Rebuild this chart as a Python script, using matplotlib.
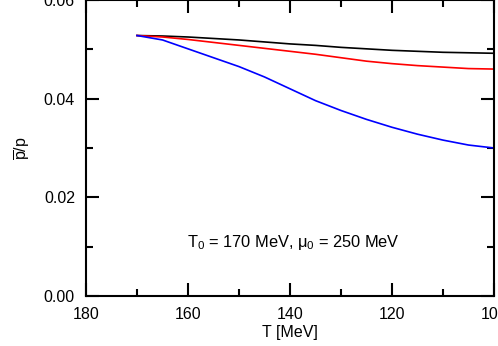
import matplotlib
matplotlib.use("Agg")
import matplotlib.pyplot as plt
from matplotlib.ticker import MultipleLocator, FormatStrFormatter

plt.rcParams['font.family'] = ['Liberation Sans', 'DejaVu Sans']
plt.rcParams['mathtext.fontset'] = 'custom'
plt.rcParams['mathtext.rm'] = 'Liberation Sans'
plt.rcParams['mathtext.it'] = 'Liberation Sans:italic'

T = [170, 165, 160, 155, 150, 145, 140, 135, 130, 125, 120, 115, 110, 105, 100]
ratio_black = [0.0528, 0.0527, 0.0525, 0.0522, 0.0519, 0.0515, 0.0511, 0.0508,
               0.0504, 0.0501, 0.0498, 0.0496, 0.0494, 0.0493, 0.0492]
ratio_red = [0.0528, 0.0525, 0.0520, 0.0514, 0.0508, 0.0502, 0.0496, 0.0490,
             0.0483, 0.0476, 0.0471, 0.0467, 0.0464, 0.0461, 0.0460]
ratio_blue = [0.0528, 0.0519, 0.0501, 0.0483, 0.0465, 0.0444, 0.0420, 0.0396,
              0.0376, 0.0358, 0.0342, 0.0328, 0.0316, 0.0306, 0.0300]

fig = plt.figure(figsize=(4.98, 3.46), dpi=100)
ax = fig.add_axes([86/498, 1 - 296/346, (494 - 86)/498, 296/346])

ax.plot(T, ratio_black, color='black', lw=1.2)
ax.plot(T, ratio_red, color='red', lw=1.2)
ax.plot(T, ratio_blue, color='blue', lw=1.2)

ax.set_xlim(180, 100)
ax.set_ylim(0, 0.06)
ax.xaxis.set_major_locator(MultipleLocator(20))
ax.xaxis.set_minor_locator(MultipleLocator(10))
ax.yaxis.set_major_locator(MultipleLocator(0.02))
ax.yaxis.set_minor_locator(MultipleLocator(0.01))
ax.yaxis.set_major_formatter(FormatStrFormatter('%.2f'))

for s in ax.spines.values():
    s.set_linewidth(1.5)
ax.tick_params(which='both', direction='in', top=True, right=True, width=1.5,
               labelsize=11.5, pad=8)
ax.tick_params(which='major', length=9.5)
ax.tick_params(which='minor', length=5)

ax.set_xlabel('T [MeV]', fontsize=11.5, labelpad=2)
ax.set_ylabel(r'$\overline{\mathrm{p}}$/p', fontsize=11.5, labelpad=8)

ax.text(0.508, 0.18, r'T$_{\mathrm{0}}$ = 170 MeV, μ$_{\mathrm{0}}$ = 250 MeV',
        transform=ax.transAxes, ha='center', va='center', fontsize=11.8)

fig.savefig('out.png', dpi=100)
